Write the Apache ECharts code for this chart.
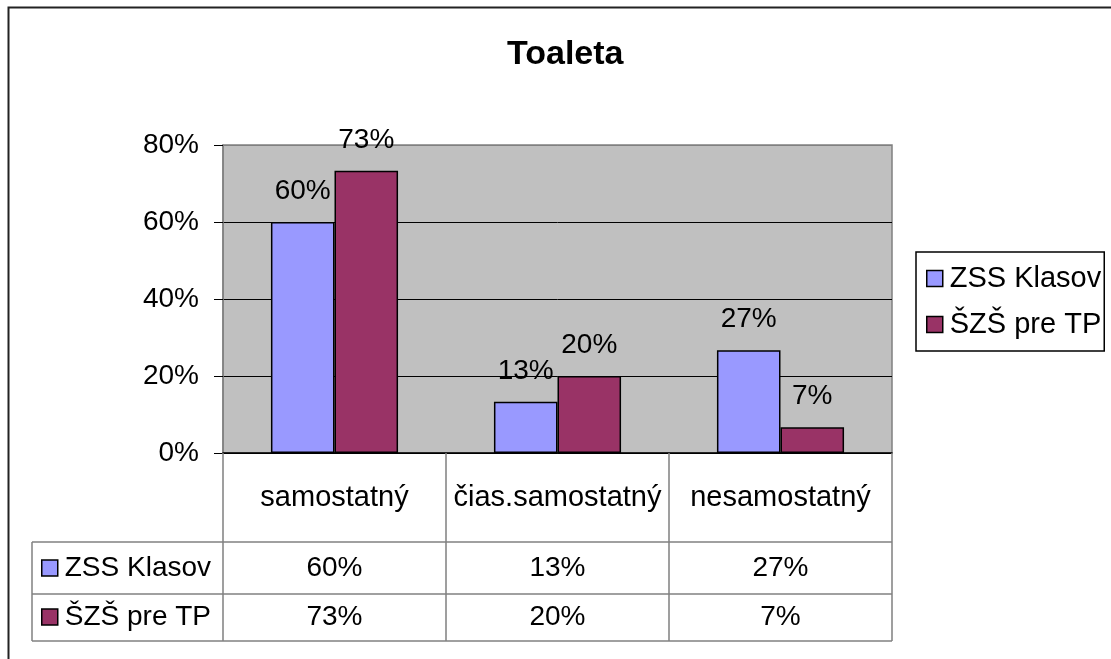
<!DOCTYPE html>
<html><head><meta charset="utf-8">
<script src="https://cdn.jsdelivr.net/npm/echarts@6/dist/echarts.min.js"></script>
<style>html,body{margin:0;padding:0;background:#fff}#c{width:1111px;height:659px}</style>
</head><body><div id="c"></div>
<script>
const categories = ['samostatný', 'čias.samostatný', 'nesamostatný'];
const seriesNames = ['ZSS Klasov', 'ŠZŠ pre TP'];
const zssKlasov = [60, 13.3, 26.7];
const szsPreTP = [73.3, 20, 6.7];
const yTickValues = [0, 20, 40, 60, 80];
const titleText = 'Toaleta';

const FONT = "'Liberation Sans', Arial, sans-serif";
const colors = ['#9999FF', '#993366'];
const pct = v => Math.round(v) + '%';

const chart = echarts.init(document.getElementById('c'), null, {renderer: 'canvas'});

const gray = '#808080';
const tableLines = [
  [32, 542, 892, 542],
  [32, 594, 892, 594],
  [32, 641, 892, 641],
  [32, 542, 32, 641]
];

chart.setOption({
  animation: false,
  backgroundColor: '#fff',
  textStyle: {fontFamily: FONT},
  title: {
    text: titleText, left: 502, top: 33,
    textStyle: {fontFamily: FONT, fontSize: 34, fontWeight: 'bold', color: '#000'}
  },
  grid: {left: 223, right: 219, top: 145, bottom: 206, show: true,
         backgroundColor: '#C0C0C0', borderColor: gray, borderWidth: 1.5,
         outerBoundsMode: 'none'},
  legend: [
    {
      data: seriesNames, orient: 'vertical', left: 916, top: 252,
      padding: [12, 3, 12, 10], itemWidth: 16, itemHeight: 16, itemGap: 17,
      borderColor: '#000', borderWidth: 1.5, backgroundColor: '#fff',
      icon: 'rect',
      itemStyle: {borderColor: '#000', borderWidth: 1.5},
      textStyle: {fontFamily: FONT, fontSize: 29, color: '#000', padding: [0, 0, 0, 2]},
      selectedMode: false
    },
    {
      data: seriesNames, orient: 'vertical', left: 41, top: 554,
      padding: 0, itemWidth: 16, itemHeight: 16, itemGap: 21,
      icon: 'rect',
      itemStyle: {borderColor: '#000', borderWidth: 1.5},
      textStyle: {fontFamily: FONT, fontSize: 28, color: '#000', padding: [0, 0, 0, 2]},
      selectedMode: false
    }
  ],
  xAxis: {
    type: 'category', data: categories,
    axisLine: {show: true, lineStyle: {color: '#000', width: 1.5}},
    axisTick: {show: true, length: 188, inside: false, interval: 0,
               lineStyle: {color: gray, width: 1.5}},
    axisLabel: {
      interval: 0, margin: 0, hideOverlap: false, verticalAlign: 'top',
      formatter: (value, idx) => '{c|' + value + '}\n{a|' + pct(zssKlasov[idx]) + '}\n{b|' + pct(szsPreTP[idx]) + '}',
      rich: {
        c: {fontFamily: FONT, fontSize: 29, color: '#000', lineHeight: 89, height: 89, verticalAlign: 'middle'},
        a: {fontFamily: FONT, fontSize: 28, color: '#000', lineHeight: 52, height: 52, verticalAlign: 'middle'},
        b: {fontFamily: FONT, fontSize: 28, color: '#000', lineHeight: 47, height: 47, verticalAlign: 'middle'}
      }
    },
    splitLine: {show: false}
  },
  yAxis: {
    type: 'value', min: yTickValues[0], max: yTickValues[yTickValues.length - 1],
    interval: yTickValues[1] - yTickValues[0],
    axisLine: {show: true, lineStyle: {color: gray, width: 1.5}},
    axisTick: {show: true, length: 9, inside: false, lineStyle: {color: '#000', width: 1}},
    axisLabel: {formatter: '{value}%', margin: 24, fontFamily: FONT, fontSize: 28, color: '#000'},
    splitLine: {show: true, lineStyle: {color: ['#000', '#000', '#000', '#000', gray], width: 1}}
  },
  series: [
    {
      name: seriesNames[0], type: 'bar', data: zssKlasov,
      barGap: '0%', barCategoryGap: '43%',
      itemStyle: {color: colors[0], borderColor: '#000', borderWidth: 1.5},
      label: {show: true, position: 'top', distance: 17, formatter: p => pct(p.value),
              fontFamily: FONT, fontSize: 28, color: '#000'}
    },
    {
      name: seriesNames[1], type: 'bar', data: szsPreTP,
      barGap: '0%', barCategoryGap: '43%',
      itemStyle: {color: colors[1], borderColor: '#000', borderWidth: 1.5},
      label: {show: true, position: 'top', distance: 17, formatter: p => pct(p.value),
              fontFamily: FONT, fontSize: 28, color: '#000'}
    }
  ],
  graphic: [
    {type: 'rect', left: 6, top: 5, z: -10, silent: true,
     shape: {x: 0, y: 0, width: 1200, height: 800},
     style: {fill: null, stroke: '#222', lineWidth: 2}},
    ...tableLines.map(l => ({
      type: 'line', silent: true, z: 10,
      shape: {x1: l[0], y1: l[1], x2: l[2], y2: l[3]},
      style: {stroke: gray, lineWidth: 1.5}
    }))
  ]
});
</script>
</body></html>
